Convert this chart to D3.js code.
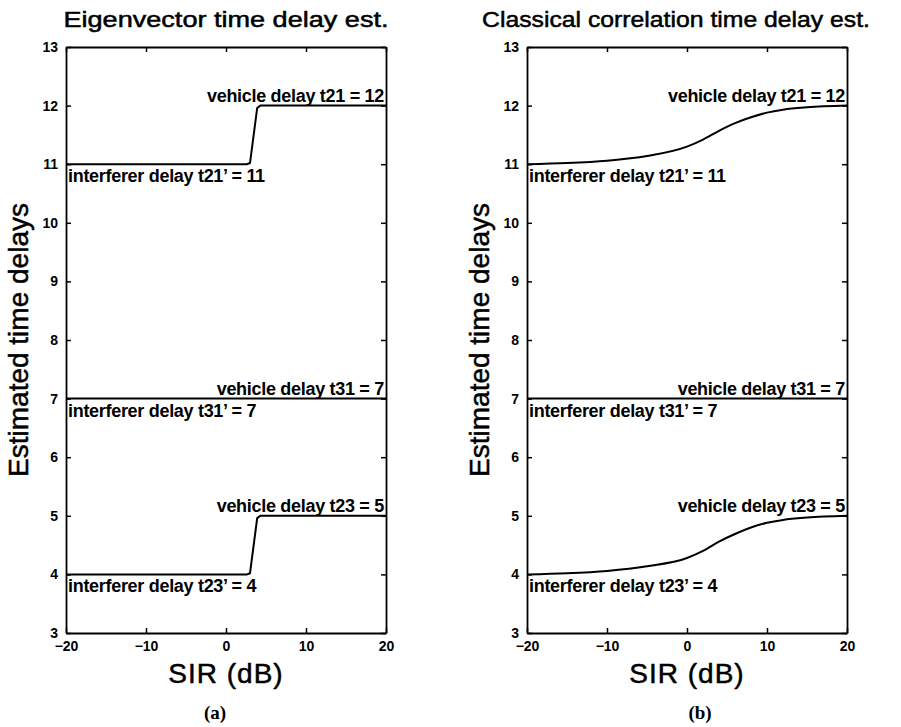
<!DOCTYPE html>
<html>
<head>
<meta charset="utf-8">
<script src="https://cdn.jsdelivr.net/npm/d3@7"></script>
<style>
  body { margin: 0; background: #fff; }
  svg { display: block; }
  text { font-family: "Liberation Sans", Arial, Helvetica, sans-serif; fill: #000; }
</style>
</head>
<body>
<div id="chart"></div>
<script>
// ejes
const sirTicks = [-20, -10, 0, 10, 20];
const delayTicks = [3, 4, 5, 6, 7, 8, 9, 10, 11, 12, 13];

// (a) eigenvector: salto brusco cerca de 3-4 dB
const eigenSir = [-20, 2.6, 3.0, 3.9, 4.3, 20];
const eigenT21 = [11, 11, 11.02, 11.96, 12, 12];
const eigenT31 = [7, 7, 7, 7, 7, 7];
const eigenT23 = [4, 4, 4.02, 4.96, 5, 5];

// (b) correlacion clasica: transicion suave
const classicSir = [-20, -15, -10, -5, 0, 2, 4, 6, 8, 10, 12, 15, 20];
const classicT21 = [11, 11.02, 11.06, 11.14, 11.3, 11.42, 11.57, 11.7, 11.8, 11.88, 11.93, 11.97, 12];
const classicT31 = [7, 7, 7, 7, 7, 7, 7, 7, 7, 7, 7, 7, 7];
const classicT23 = [4, 4.02, 4.06, 4.14, 4.28, 4.4, 4.56, 4.69, 4.8, 4.88, 4.93, 4.97, 5];

const labelTexts = ["vehicle delay t21 = 12", "interferer delay t21’ = 11",
                    "vehicle delay t31 = 7", "interferer delay t31’ = 7",
                    "vehicle delay t23 = 5", "interferer delay t23’ = 4"];
const labelValues = [12, 11, 7, 7, 5, 4];
const labelKinds = ["vehicle", "interferer", "vehicle", "interferer", "vehicle", "interferer"];

const titles = ["Eigenvector time delay est.", "Classical correlation time delay est."];
const captions = ["(a)", "(b)"];

const W = 901, H = 727;
const svg = d3.select("#chart").append("svg")
    .attr("width", W)
    .attr("height", H);
svg.append("rect").attr("width", W).attr("height", H).attr("fill", "#fff");

function crearPanel(left, right, sir, series, curve, title, titleX, titleLen, caption, captionX) {
    const top = 47, bottom = 633;

    const x = d3.scaleLinear().domain([-20, 20]).range([left, right]);
    const y = d3.scaleLinear().domain([3, 13]).range([bottom, top]);

    const g = svg.append("g");

    // caja estilo matlab con ticks hacia dentro
    g.append("g")
        .attr("transform", "translate(0," + bottom + ")")
        .call(d3.axisBottom(x).tickValues(sirTicks).tickSize(-5).tickSizeOuter(0).tickPadding(8))
        .call(a => a.selectAll("text").style("font-size", "14px").style("font-weight", "bold"));
    g.append("g")
        .attr("transform", "translate(0," + top + ")")
        .call(d3.axisTop(x).tickValues(sirTicks).tickSize(-5).tickSizeOuter(0).tickFormat(""));
    g.append("g")
        .attr("transform", "translate(" + left + ",0)")
        .call(d3.axisLeft(y).tickValues(delayTicks).tickSize(-5).tickSizeOuter(0).tickPadding(8))
        .call(a => a.selectAll("text").style("font-size", "14px").style("font-weight", "bold"));
    g.append("g")
        .attr("transform", "translate(" + right + ",0)")
        .call(d3.axisRight(y).tickValues(delayTicks).tickSize(-5).tickSizeOuter(0).tickFormat(""));
    g.selectAll(".domain").attr("stroke-width", 1.8);
    g.selectAll(".tick line").attr("stroke-width", 1.5);
    g.selectAll(".tick text").attr("font-family", null);

    const line = d3.line()
        .curve(curve)
        .x((d, i) => x(sir[i]))
        .y(d => y(d));
    series.forEach(s => {
        g.append("path")
            .datum(s)
            .attr("fill", "none")
            .attr("stroke", "#000")
            .attr("stroke-width", 2)
            .attr("d", line);
    });

    g.selectAll("text.lbl")
        .data(labelTexts)
        .enter()
        .append("text")
        .attr("class", "lbl")
        .attr("x", (d, i) => labelKinds[i] === "vehicle" ? right - 2 : left + 2)
        .attr("y", (d, i) => labelKinds[i] === "vehicle" ? y(labelValues[i]) - 4 : y(labelValues[i]) + 18)
        .attr("text-anchor", (d, i) => labelKinds[i] === "vehicle" ? "end" : "start")
        .style("font-size", "18px")
        .style("font-weight", "bold")
        .style("letter-spacing", "-0.3px")
        .text(d => d);

    g.append("text")
        .attr("x", titleX)
        .attr("y", 27)
        .attr("text-anchor", "middle")
        .attr("textLength", titleLen)
        .attr("lengthAdjust", "spacingAndGlyphs")
        .attr("stroke", "#000")
        .attr("stroke-width", 0.5)
        .style("font-size", "22px")
        .text(title);

    g.append("text")
        .attr("x", (left + right) / 2)
        .attr("y", 683)
        .attr("text-anchor", "middle")
        .attr("stroke", "#000")
        .attr("stroke-width", 0.5)
        .style("font-size", "28px")
        .style("letter-spacing", "1px")
        .text("SIR (dB)");

    g.append("text")
        .attr("transform", "translate(" + (left - 38) + "," + ((top + bottom) / 2) + ") rotate(-90)")
        .attr("text-anchor", "middle")
        .attr("stroke", "#000")
        .attr("stroke-width", 0.5)
        .style("font-size", "28px")
        .text("Estimated time delays");

    g.append("text")
        .attr("x", captionX)
        .attr("y", 719)
        .attr("text-anchor", "middle")
        .style("font-family", "'Liberation Serif', 'Times New Roman', serif")
        .style("font-size", "19px")
        .style("font-weight", "bold")
        .text(caption);
}

crearPanel(66, 386, eigenSir, [eigenT21, eigenT31, eigenT23], d3.curveLinear, titles[0], 226, 325, captions[0], 215);
crearPanel(527, 847, classicSir, [classicT21, classicT31, classicT23], d3.curveMonotoneX, titles[1], 676, 388, captions[1], 700);
</script>
</body>
</html>
